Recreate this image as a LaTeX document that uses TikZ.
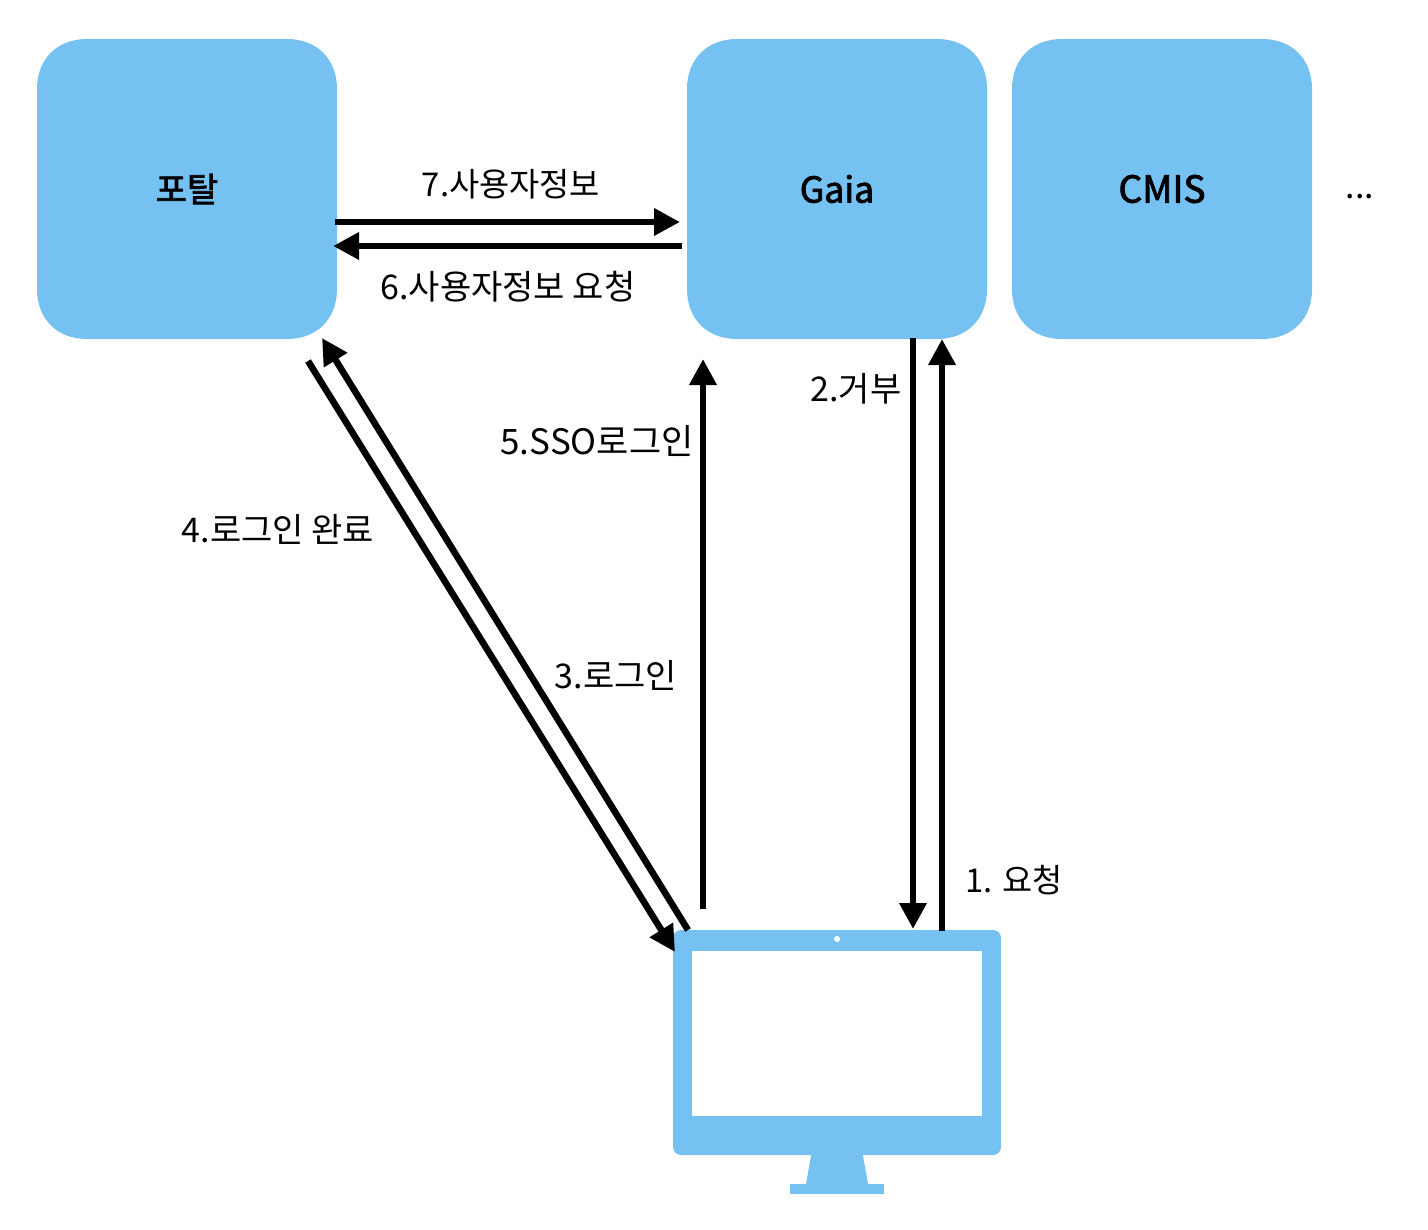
\documentclass[tikz,border=0pt]{standalone}
\usepackage{fontspec}
\usetikzlibrary{arrows.meta}
\setmainfont{Noto Sans CJK KR}
\newfontfamily\medcjk[FakeBold=2.2]{Noto Sans CJK KR}
\definecolor{skyfill}{HTML}{75C1F1}
\newcommand{\squirclefill}[2]{%
  \fill[skyfill] (#1,#2+50) .. controls (#1,#2+20) and (#1+20,#2) .. (#1+50,#2)
    -- (#1+250,#2) .. controls (#1+280,#2) and (#1+300,#2+20) .. (#1+300,#2+50)
    -- (#1+300,#2+250) .. controls (#1+300,#2+280) and (#1+280,#2+300) .. (#1+250,#2+300)
    -- (#1+50,#2+300) .. controls (#1+20,#2+300) and (#1,#2+280) .. (#1,#2+250) -- cycle;}
\tikzset{
  x=0.5pt,y=-0.5pt,
  server/.style={minimum width=150pt,minimum height=150pt,inner sep=0pt,font=\fontsize{17.8}{20}\selectfont\medcjk},
  flow/.style={line width=3.3pt,-{Triangle[length=13pt,width=13pt]}},
  lbl/.style={font=\fontsize{17}{20}\selectfont,inner sep=0pt,text=black},
  mon/.style={fill=skyfill,draw=none}
}
\begin{document}
\begin{tikzpicture}
\useasboundingbox (0,0) rectangle (1428,1230);
\squirclefill{37}{39}
\squirclefill{687}{39}
\squirclefill{1012}{39}
\node[server,font=\fontsize{17}{20}\selectfont\medcjk] (portal) at (187,189) {\raisebox{-1pt}{포탈}};
\node[server] (gaia) at (837,189) {\raisebox{-1.5pt}{Gaia}};
\node[server,font=\fontsize{18.6}{20}\selectfont\medcjk] (cmis) at (1162,189) {\raisebox{-1.5pt}{CMIS}};
\node[lbl] (dots) at (1360,197) {...};
% monitor
\fill[mon] (790,1184) rectangle (884,1194);
\fill[mon] (812,1150) -- (862,1150) -- (868,1184) -- (806,1184) -- cycle;
\node[mon,rounded corners=4pt,minimum width=164pt,minimum height=112.5pt,inner sep=0pt] (monitor) at (837,1042.5) {};
\node[fill=white,minimum width=145pt,minimum height=82.5pt,inner sep=0pt] (screen) at (837,1033.5) {};
\node[circle,fill=white,minimum size=3pt,inner sep=0pt] (cam) at (837,939) {};
% endpoints
\coordinate (a7s) at (335,222); \coordinate (a7e) at (680,222);
\coordinate (a6s) at (682,246); \coordinate (a6e) at (333,246);
\coordinate (a5s) at (703,909); \coordinate (a5e) at (703,359);
\coordinate (a2s) at (913,338); \coordinate (a2e) at (913,929);
\coordinate (a1s) at (942,931); \coordinate (a1e) at (942,339);
\coordinate (a3s) at (688,930); \coordinate (a3e) at (322,338);
\coordinate (a4s) at (308,361); \coordinate (a4e) at (675,952);
\foreach \s/\e in {a7s/a7e,a6s/a6e,a5s/a5e,a2s/a2e,a1s/a1e,a3s/a3e,a4s/a4e}
  \draw[flow] (\s) -- (\e);
% labels
\node[lbl,font=\fontsize{16.4}{20}\selectfont] (l7) at (511,184) {7.사용자정보};
\node[lbl] (l6) at (508,287) {6.사용자정보 요청};
\node[lbl,font=\fontsize{17.5}{20}\selectfont] (l5) at (597,441) {5.SSO로그인};
\node[lbl] (l2) at (856,389) {2.거부};
\node[lbl] (l4) at (278,529) {4.로그인 완료};
\node[lbl] (l3) at (616,675) {3.로그인};
\node[lbl,font=\fontsize{16.4}{20}\selectfont] (l1) at (1014,880) {1. 요청};
\end{tikzpicture}
\end{document}
